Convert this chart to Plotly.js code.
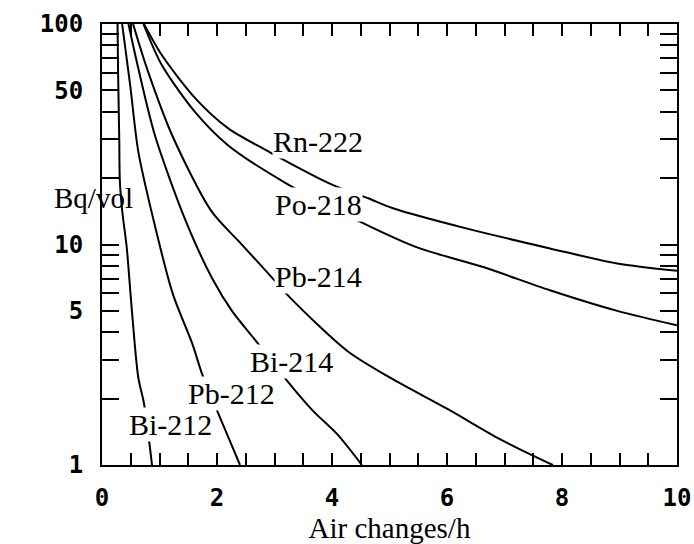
<!DOCTYPE html>
<html>
<head>
<meta charset="utf-8">
<script src="https://cdn.plot.ly/plotly-3.0.1.min.js"></script>
<style>html,body{margin:0;padding:0;background:#fff;}#chart{width:694px;height:544px;}</style>
</head>
<body>
<div id="chart"></div>
<script>
// Air changes per hour (x) and activity in Bq/vol (y)
const xRn222 = [0.73, 1.04, 1.62, 2.19, 2.92, 4.0, 4.63, 5.06, 6.35, 7.79, 8.96, 10.0];
const yRn222 = [100, 72.3, 46.1, 33.7, 26.2, 18.7, 16.2, 14.6, 11.8, 9.6, 8.2, 7.6];

const xPo218 = [0.72, 1.04, 1.62, 2.19, 3.18, 4.54, 5.48, 6.63, 7.79, 8.96, 10.0];
const yPo218 = [100, 65.1, 39.8, 28.2, 19.1, 12.5, 9.7, 7.9, 6.2, 5.0, 4.3];

const xPb214 = [0.54, 0.78, 1.22, 1.9, 2.4, 2.89, 3.27, 4.26, 5.01, 6.0, 6.92, 7.44, 7.84];
const yPb214 = [100, 63.1, 31.3, 14.2, 10.2, 7.4, 5.74, 3.30, 2.49, 1.80, 1.31, 1.12, 1.0];

const xBi214 = [0.46, 0.63, 0.92, 1.44, 1.91, 2.26, 2.70, 3.22, 3.67, 4.09, 4.52];
const yBi214 = [100, 63.1, 31.3, 13.1, 7.07, 5.0, 3.59, 2.41, 1.76, 1.38, 1.0];

const xPb212 = [0.35, 0.49, 0.63, 0.89, 1.23, 1.57, 1.74, 2.02, 2.4];
const yPb212 = [100, 52.8, 26.5, 13.1, 5.99, 3.55, 2.59, 1.72, 1.0];

const xBi212 = [0.27, 0.28, 0.30, 0.31, 0.35, 0.43, 0.52, 0.63, 0.73, 0.87];
const yBi212 = [100, 60, 30, 19.5, 14.3, 9.7, 5.0, 2.5, 1.9, 1.0];

const seriesNames = ["Rn-222", "Po-218", "Pb-214", "Bi-214", "Pb-212", "Bi-212"];
const seriesX = [xRn222, xPo218, xPb214, xBi214, xPb212, xBi212];
const seriesY = [yRn222, yPo218, yPb214, yBi214, yPb212, yBi212];

// label anchor points (data coordinates)
const labelX = [3.76, 3.77, 3.76, 3.29, 2.25, 1.19];
const labelY = [29.4, 15.2, 7.16, 2.94, 2.12, 1.53];

const xTickVals = [0, 2, 4, 6, 8, 10];
const xTickText = ["0", "2", "4", "6", "8", "10"];
const xMinorVals = [0.5, 1, 1.5, 2.5, 3, 3.5, 4.5, 5, 5.5, 6.5, 7, 7.5, 8.5, 9, 9.5];
const yTickVals = [1, 5, 10, 50, 100];
const yTickText = ["1", "5", "10", "50", "100"];
const yMinorVals = [2, 3, 4, 6, 7, 8, 9, 20, 30, 40, 60, 70, 80, 90];
const yLongTicks = [10, 100];

const traces = seriesNames.map((n, i) => ({
  x: seriesX[i], y: seriesY[i], name: n, type: "scatter", mode: "lines",
  line: {color: "#000", width: 2, shape: "spline", smoothing: 0.8},
  hoverinfo: "skip"
}));

const tickFont = {family: "DejaVu Sans Mono", size: 24, color: "#000", weight: "bold"};
const serif = "Liberation Serif, Times New Roman, serif";

const annotations = seriesNames.map((n, i) => ({
  x: labelX[i], y: Math.log10(labelY[i]), xref: "x", yref: "y",
  text: n, showarrow: false, bgcolor: "#fff", borderpad: 0,
  font: {family: serif, size: 30, color: "#000"}
}));
annotations.push({
  x: -0.087, y: 0.605, xref: "paper", yref: "paper", text: "Bq/vol",
  showarrow: false, font: {family: serif, size: 29, color: "#000"}
});

const layout = {
  width: 694, height: 544,
  margin: {l: 102, r: 17, t: 24, b: 79},
  paper_bgcolor: "#fff", plot_bgcolor: "#fff",
  showlegend: false,
  xaxis: {
    range: [0, 10], tickmode: "array", tickvals: xTickVals, ticktext: xTickText,
    ticks: "inside", ticklen: 12, tickwidth: 2, tickcolor: "#000",
    minor: {tickmode: "array", tickvals: xMinorVals, ticks: "inside", ticklen: 12, tickwidth: 2, tickcolor: "#000"},
    showline: true, linewidth: 2, linecolor: "#000", mirror: "ticks",
    showgrid: false, zeroline: false, tickfont: tickFont, ticklabelstandoff: 10,
    title: {text: "Air changes/h", font: {family: serif, size: 29, color: "#000"}, standoff: 2}
  },
  yaxis: {
    type: "log", range: [0, 2], tickmode: "array", tickvals: yTickVals, ticktext: yTickText,
    ticks: "inside", ticklen: 17, tickwidth: 2, tickcolor: "#000",
    minor: {tickmode: "array", tickvals: yMinorVals, ticks: "inside", ticklen: 17, tickwidth: 2, tickcolor: "#000"},
    showline: true, linewidth: 2, linecolor: "#000", mirror: "ticks",
    showgrid: false, zeroline: false, tickfont: tickFont, ticklabelstandoff: 12
  },
  yaxis2: {
    type: "log", range: [0, 2], overlaying: "y", side: "left", tickmode: "array", tickvals: yLongTicks,
    ticks: "inside", ticklen: 31, tickwidth: 2, tickcolor: "#000", mirror: "ticks",
    showticklabels: false, showline: false, showgrid: false, zeroline: false
  },
  annotations: annotations
};

Plotly.newPlot("chart", traces, layout, {staticPlot: true, displayModeBar: false});
</script>
</body>
</html>
